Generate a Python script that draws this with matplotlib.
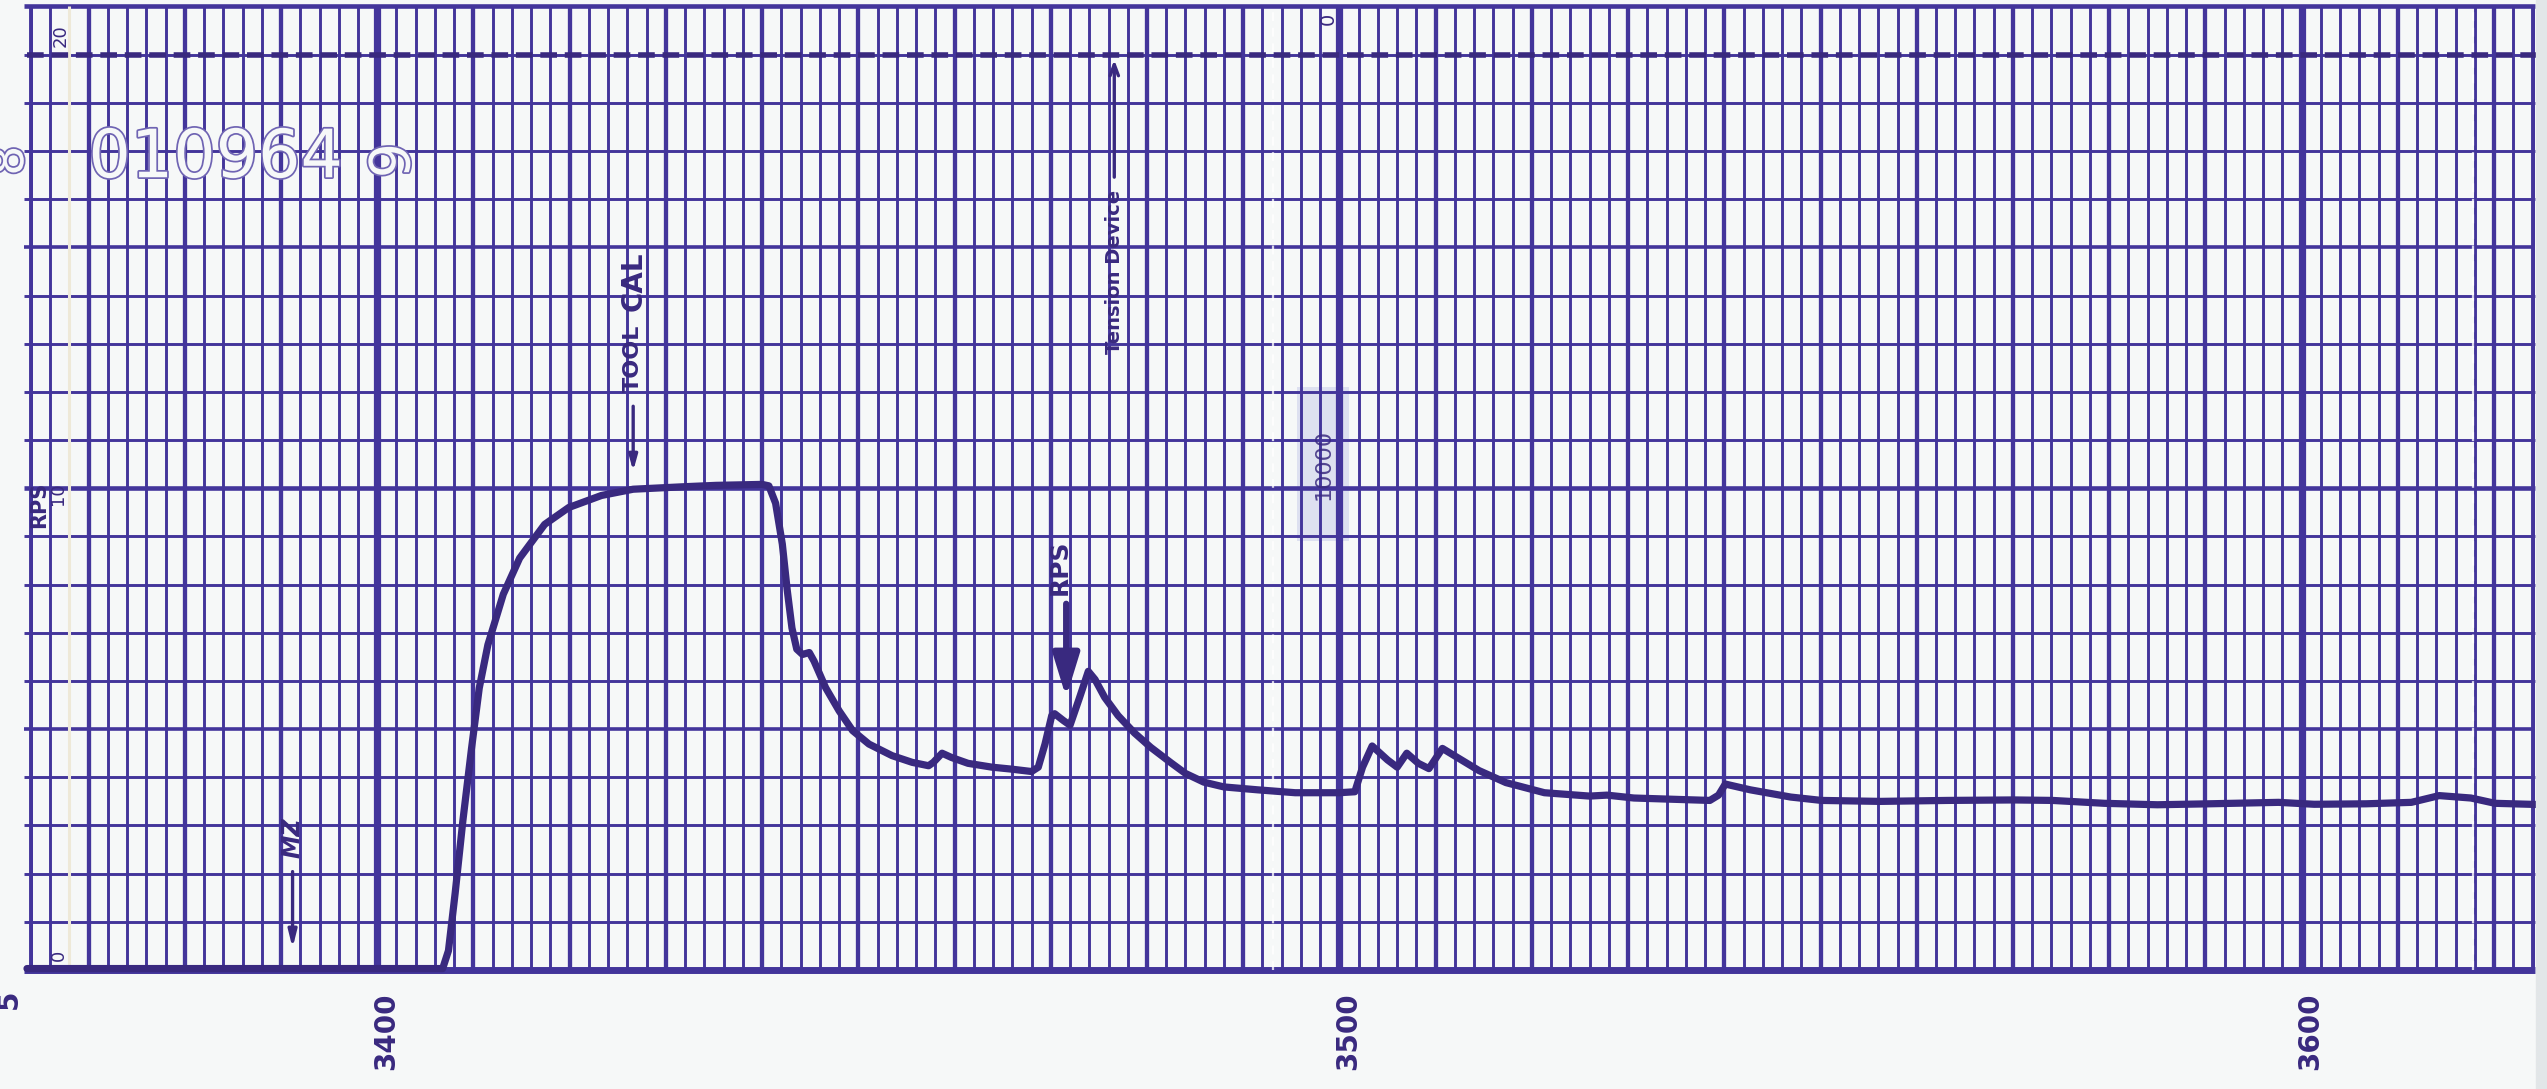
import matplotlib.pyplot as plt
import matplotlib.patheffects as pe
from matplotlib.patches import Rectangle

PAPER = "#f6f8f8"
GRID = "#43359b"
INK = "#39297f"

# depth (ft) along the strip and the RPS pen deflection (chart units 0-20)
depth = [3363.6, 3406.8, 3407.4, 3408.1, 3408.9, 3409.8, 3410.6, 3411.5, 3413.1,
         3414.8, 3417.4, 3419.9, 3423.3, 3426.6, 3431.7, 3435.2, 3440.0, 3440.7,
         3441.4, 3442.1, 3442.6, 3443.1, 3443.6, 3444.2, 3444.9, 3445.4, 3446.6,
         3448.0, 3449.4, 3451.1, 3453.5, 3455.6, 3457.3, 3457.8, 3458.7, 3459.7,
         3461.4, 3463.9, 3465.9, 3468.0, 3468.7, 3469.4, 3470.1, 3470.4, 3471.3,
         3472.0, 3473.0, 3473.9, 3474.6, 3475.6, 3477.0, 3478.7, 3480.4, 3482.5,
         3484.0, 3485.9, 3488.0, 3491.5, 3495.4, 3498.0, 3500.0, 3501.6, 3502.4,
         3503.4, 3505.0, 3506.0, 3507.0, 3508.2, 3509.3, 3510.7, 3512.1, 3514.5,
         3517.3, 3521.3, 3526.0, 3527.8, 3530.6, 3535.3, 3538.5, 3539.4, 3540.1,
         3542.7, 3546.9, 3550.1, 3556.2, 3563.2, 3570.1, 3574.1, 3579.5, 3585.0,
         3590.4, 3597.6, 3601.3, 3606.7, 3611.4, 3614.3, 3617.6, 3620.1, 3625.5]
rps = [0.03, 0.03, 0.4, 1.6, 3.1, 4.6, 5.85, 6.75, 7.8,
       8.55, 9.25, 9.6, 9.85, 9.98, 10.03, 10.06, 10.08, 10.05,
       9.69, 8.84, 7.9, 7.1, 6.66, 6.55, 6.59, 6.41, 5.86,
       5.38, 4.97, 4.69, 4.45, 4.31, 4.24, 4.31, 4.5, 4.41,
       4.29, 4.21, 4.17, 4.12, 4.21, 4.69, 5.28, 5.32, 5.18,
       5.08, 5.66, 6.2, 6.03, 5.66, 5.28, 4.92, 4.62, 4.3,
       4.08, 3.9, 3.8, 3.74, 3.68, 3.68, 3.68, 3.7, 4.21,
       4.65, 4.36, 4.21, 4.5, 4.29, 4.18, 4.6, 4.43, 4.14,
       3.89, 3.68, 3.61, 3.63, 3.57, 3.54, 3.52, 3.63, 3.86,
       3.74, 3.59, 3.52, 3.50, 3.52, 3.53, 3.52, 3.46, 3.43,
       3.45, 3.48, 3.44, 3.45, 3.48, 3.62, 3.57, 3.46, 3.43]

tension_level = 19.0
depth_labels = [3400, 3500, 3600]
grid_x0, grid_x1 = 3364, 3624

fig = plt.figure(figsize=(25.47, 10.89), dpi=100, facecolor=PAPER)
ax = fig.add_axes([27 / 2547, 119 / 1089, 2520 / 2547, 963.5 / 1089])
ax.set_xlim(3363.6, 3625.5)
ax.set_ylim(0, 20)
ax.set_axis_off()

# paper edge on the right
fig.patches.append(Rectangle((2536 / 2547, 0), 11 / 2547, 1, transform=fig.transFigure,
                             color="#e2e6e8", zorder=0))

# chart grid: 2 ft minor, 10 ft medium, 100 ft heavy
minor_x = list(range(grid_x0, grid_x1 + 1, 2))
mid_x = [x for x in range(3370, grid_x1, 10) if x % 100]
gkw = dict(color=GRID, zorder=1, clip_on=False)
ax.vlines(minor_x, 0, 20, lw=2.1, **gkw)
ax.vlines(mid_x, 0, 20, lw=3.1, **gkw)
ax.vlines(depth_labels, 0, 20, lw=5.2, **gkw)
ax.vlines([grid_x0, grid_x1], 0, 20, lw=2.8, **gkw)
ax.hlines([v for v in range(21) if v % 5], 3363.3, 3624.3, lw=2.1, **gkw)
ax.hlines([5, 15], 3363.3, 3624.3, lw=2.6, **gkw)
ax.hlines([10, 20], 3363.3, 3624.3, lw=3.3, **gkw)
ax.hlines([0], 3363.3, 3624.3, lw=5, **gkw)

# paper folds showing through the grid
ax.vlines([3368], 0, 20, lw=2.2, color="#eee9d8", zorder=1.5, clip_on=False)
ax.vlines([3493.1, 3617.8], 0, 20, lw=1.6, color="#ffffff", alpha=0.8,
          linestyles=(0, (4, 3)), zorder=1.5)

# tension device pen (beaded line near full scale)
ax.hlines(tension_level, 3363.6, 3625.5, lw=4.0, linestyles=(0, (3, 1.4)),
          color=INK, zorder=3, clip_on=False)

# RPS trace
ax.plot(depth, rps, color=INK, lw=5.2, solid_joinstyle="round",
        solid_capstyle="round", zorder=4, clip_on=False)

tkw = dict(rotation=90, ha="center", va="center", color=INK, clip_on=False, zorder=5)

# scale marks in the left column
ax.text(3367.1, 19.4, "20", fontsize=13, **tkw)
ax.text(3366.9, 0.3, "0", fontsize=13, **tkw)
ax.text(3364.9, 9.65, "RPS", fontsize=15, fontweight="bold", **tkw)
ax.text(3366.8, 9.88, "10", fontsize=13, **tkw)
ax.text(3498.8, 19.75, "0", fontsize=14, **tkw)
ax.add_patch(Rectangle((3495.6, 8.9), 5.4, 3.2, color="#d3d6ee", alpha=0.7, zorder=0.5, lw=0))
ax.text(3498.3, 10.5, "10000", fontsize=16, alpha=0.85, **tkw)

# depth numbers below the strip
for d in depth_labels:
    ax.text(d + 0.9, -1.27, str(d), fontsize=20, fontweight="bold", **tkw)
ax.text(3361.7, -0.6, "5", fontsize=20, fontweight="bold", **tkw)

# hand marks and arrows
akw = dict(color=INK, lw=2.4)
ax.annotate("", xy=(3391.2, 0.4), xytext=(3391.2, 2.1),
            arrowprops=dict(arrowstyle="-|>,head_length=1.0,head_width=0.25", **akw))
ax.text(3391.2, 2.75, "MZ", fontsize=17, style="italic", fontweight="bold", **tkw)

ax.annotate("", xy=(3426.6, 10.3), xytext=(3426.6, 11.76),
            arrowprops=dict(arrowstyle="-|>,head_length=0.9,head_width=0.25", **akw))
ax.text(3426.6, 12.7, "TOOL", fontsize=16, fontweight="bold", **tkw)
ax.text(3426.6, 14.3, "CAL", fontsize=20, fontweight="bold", **tkw)

ax.annotate("", xy=(3476.6, 18.95), xytext=(3476.6, 16.4),
            arrowprops=dict(arrowstyle="->,head_length=0.8,head_width=0.3", **akw))
ax.text(3476.6, 14.5, "Tension Device", fontsize=14, fontweight="bold", **tkw)

ax.annotate("", xy=(3471.6, 5.6), xytext=(3471.6, 7.66),
            arrowprops=dict(arrowstyle="-|>,head_length=1.3,head_width=0.4",
                            color=INK, lw=4.5, mutation_scale=20))
ax.text(3470.9, 8.35, "RPS", fontsize=18, fontweight="bold", **tkw)

# stamped serial number (hollow dotted figures)
stamp = [pe.withStroke(linewidth=2.5, foreground="#6f64b3")]
ax.text(3383.2, 16.85, "010964", fontsize=48, color=PAPER, ha="center", va="center",
        path_effects=stamp, zorder=5)
ax.text(3401.8, 16.8, "9", fontsize=40, rotation=90, color=PAPER, ha="center",
        va="center", path_effects=stamp, zorder=5)
ax.text(3361.9, 16.8, "8", fontsize=34, rotation=90, color=PAPER, ha="center",
        va="center", path_effects=stamp, zorder=5, clip_on=False)

fig.savefig("out.png", dpi=100, facecolor=PAPER)
